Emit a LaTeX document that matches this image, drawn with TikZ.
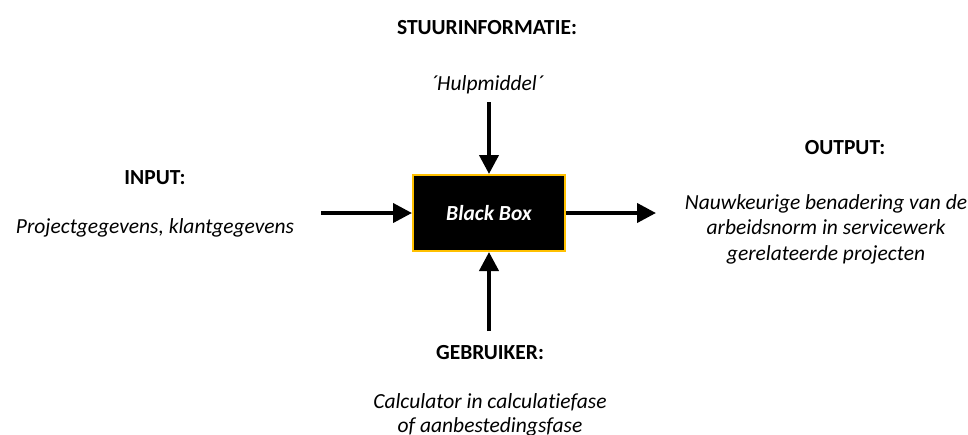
\documentclass[tikz,border=0pt]{standalone}
\usepackage{fontspec}
\setmainfont[Ligatures=NoCommon]{Carlito}
\usetikzlibrary{arrows.meta}
\definecolor{boxedge}{HTML}{FFC000}
\begin{document}
\begin{tikzpicture}[x=1pt,y=-1pt,
  every node/.style={inner sep=0pt},
  heading/.style={font=\fontsize{21.5}{26}\selectfont\bfseries},
  detail/.style={font=\fontsize{21.5}{25.5}\selectfont\itshape, align=center},
  flow/.style={line width=4pt, -{Triangle[width=19pt,length=19pt]}},
  blackbox/.style={draw=boxedge, line width=2pt, fill=black, minimum width=152pt,
    minimum height=76pt, text=white, font=\fontsize{21.5}{26}\selectfont\bfseries\itshape}]
\useasboundingbox (0,0) rectangle (968,434);

% central box
\node[blackbox] (box) at (489,213) {Black Box};

% top: control information
\node[heading] (stuur) at (487,28) {STUURINFORMATIE:};
\node[detail] (hulp) at (487,85) {´Hulpmiddel´};
\coordinate (topstart) at (489,102);
\draw[flow] (topstart) -- (box.north);

% left: input
\node[heading] (input) at (155,178) {INPUT:};
\node[detail] (inputtxt) at (155,228) {Projectgegevens, klantgegevens};
\coordinate (leftstart) at (321,213);
\draw[flow] (leftstart) -- (box.west);

% right: output
\node[heading] (output) at (845,148) {OUTPUT:};
\node[detail] (outputtxt) at (826,229) {Nauwkeurige benadering van de\\arbeidsnorm in servicewerk\\gerelateerde projecten};
\coordinate (rightend) at (656,213);
\draw[flow] (box.east) -- (rightend);

% bottom: user
\coordinate (botstart) at (489,331);
\draw[flow] (botstart) -- (box.south);
\node[heading] (user) at (490,353) {GEBRUIKER:};
\node[detail, font=\fontsize{21.5}{23.5}\selectfont\itshape] (usertxt) at (490,415) {Calculator in calculatiefase\\of aanbestedingsfase};
\end{tikzpicture}
\end{document}
